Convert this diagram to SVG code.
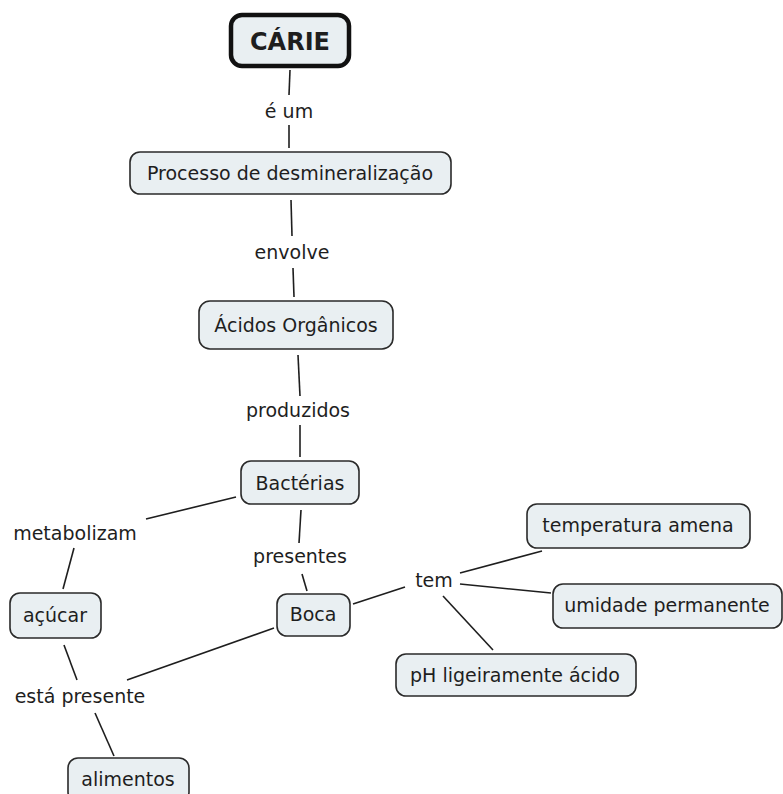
<svg xmlns="http://www.w3.org/2000/svg" width="783" height="794" viewBox="0 0 783 794">
<style>
.n{fill:#e9eff2;stroke:#2a2a2a;stroke-width:1.6}
.t{font-family:"DejaVu Sans",Verdana,sans-serif;font-size:19px;fill:#1e1e1e;text-anchor:middle}
.c line{stroke:#1e1e1e;stroke-width:1.6}
</style>
<rect width="783" height="794" fill="#ffffff"/>
<g class="c" id="connectors">
<line x1="290" y1="70" x2="289" y2="95"/>
<line x1="289" y1="125" x2="289" y2="148"/>
<line x1="291" y1="200" x2="292" y2="236"/>
<line x1="293" y1="268" x2="294" y2="297"/>
<line x1="298" y1="355" x2="300" y2="396"/>
<line x1="300" y1="425" x2="300" y2="457"/>
<line x1="236" y1="497" x2="146" y2="519"/>
<line x1="74" y1="548" x2="63" y2="589"/>
<line x1="301" y1="510" x2="299" y2="543"/>
<line x1="302" y1="574" x2="307" y2="591"/>
<line x1="353" y1="604" x2="405" y2="587"/>
<line x1="460" y1="573" x2="542" y2="551"/>
<line x1="460" y1="584" x2="551" y2="593"/>
<line x1="443" y1="596" x2="493" y2="650"/>
<line x1="274" y1="628" x2="127" y2="680"/>
<line x1="64" y1="645" x2="77" y2="680"/>
<line x1="95" y1="713" x2="114" y2="756"/>
</g>
<g id="carie">
<rect x="231" y="15" width="118" height="51" rx="11" fill="#e9eff2" stroke="#111" stroke-width="4.5"/>
<text x="290" y="50" class="t" style="font-weight:bold;font-size:24px">CÁRIE</text>
</g>
<g id="lbl-eum"><text x="289" y="118" class="t">é um</text></g>
<g id="processo">
<rect x="130" y="152" width="321" height="42" rx="10" class="n"/>
<text x="290" y="180" class="t">Processo de desmineralização</text>
</g>
<g id="lbl-envolve"><text x="292" y="259" class="t">envolve</text></g>
<g id="acidos">
<rect x="199" y="301" width="194" height="48" rx="11" class="n"/>
<text x="296" y="332" class="t">Ácidos Orgânicos</text>
</g>
<g id="lbl-produzidos"><text x="298" y="417" class="t">produzidos</text></g>
<g id="bacterias">
<rect x="241" y="461" width="118" height="43" rx="10" class="n"/>
<text x="300" y="490" class="t">Bactérias</text>
</g>
<g id="lbl-metabolizam"><text x="75" y="540" class="t">metabolizam</text></g>
<g id="acucar">
<rect x="10" y="593" width="91" height="45" rx="10" class="n"/>
<text x="55" y="622" class="t">açúcar</text>
</g>
<g id="lbl-presentes"><text x="300" y="563" class="t">presentes</text></g>
<g id="boca">
<rect x="277" y="594" width="73" height="42" rx="10" class="n"/>
<text x="313" y="621" class="t">Boca</text>
</g>
<g id="lbl-tem"><text x="434" y="587" class="t">tem</text></g>
<g id="temperatura">
<rect x="527" y="504" width="223" height="44" rx="10" class="n"/>
<text x="638" y="532" class="t">temperatura amena</text>
</g>
<g id="umidade">
<rect x="553" y="584" width="229" height="44" rx="10" class="n"/>
<text x="667" y="612" class="t">umidade permanente</text>
</g>
<g id="ph">
<rect x="396" y="654" width="240" height="42" rx="10" class="n"/>
<text x="515" y="682" class="t">pH ligeiramente ácido</text>
</g>
<g id="lbl-esta"><text x="80" y="703" class="t">está presente</text></g>
<g id="alimentos">
<rect x="68" y="758" width="121" height="44" rx="10" class="n"/>
<text x="128" y="786" class="t">alimentos</text>
</g>
</svg>
